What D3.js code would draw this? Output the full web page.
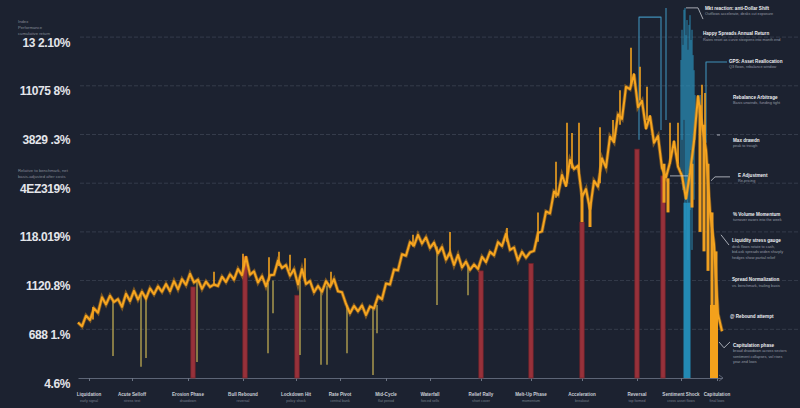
<!DOCTYPE html>
<html><head><meta charset="utf-8">
<script src="https://cdn.jsdelivr.net/npm/d3@7"></script>
<style>html,body{margin:0;padding:0;background:#1c2230;}svg{display:block}</style>
</head><body><svg id="c" width="800" height="408"></svg>
<script>
// ---------- DATA ----------
const yTickValues = [0, 10, 20, 30, 40, 50, 60, 70];
const yTickLabels = ["4.6%", "688 1.%", "1120.8%", "118.019%", "4EZ319%", "3829 .3%", "11075 8%", "13 2.10%"];

// main orange series, one value per time step
const orangeValues = [
 11.4,10.6,12.8,11.9,14.3,13.4,16.6,15.1,16.9,15.6,
 16.2,14.6,17.3,15.8,17.9,16.1,17.7,16.3,18.4,17.2,
 18.8,17.7,19.3,17.8,19.9,18.2,20.3,19.1,21.4,19.6,
 20.2,18.3,19.8,18.7,19.2,18.9,20.8,19.7,21.3,20.2,
 22.4,21.1,24.9,21.2,21.9,19.6,20.9,18.8,21.1,21.2,
 24.1,22.6,23.2,21.0,22.3,19.2,22.4,19.3,19.9,17.6,
 18.9,17.7,19.9,18.7,20.3,17.8,17.6,15.2,13.3,14.8,
 13.7,14.9,12.9,14.7,14.3,16.8,16.2,19.4,19.2,22.3,
 22.1,25.4,25.1,27.9,27.2,29.4,27.6,28.9,26.7,27.8,
 25.6,26.9,24.3,25.8,23.2,25.3,22.7,23.9,22.2,23.3,
 22.4,24.9,23.8,25.9,25.2,27.9,27.1,29.6,26.3,26.8,
 24.1,25.9,24.7,25.8,26.1,29.8,30.1,34.2,33.8,38.3,
 37.6,41.7,39.4,44.8,42.9,43.6,37.2,38.8,34.6,40.5,
 39.3,45.1,43.2,49.6,48.4,54.1,53.2,59.8,59.3,62.4,
 55.6,56.9,51.2,53.8,48.3,49.7,43.1,41.2,44.3,48.6,
 43.4,41.5,36.8,42.1,48.6,57.9,52.1,46.8,34.2,27.5,
 13.1,9.6
];

// orange upward spikes
const upT  = [3.75,34,41.25,47.75,50.25,53,56.75,63.25,83.75,93,107.25,115,119.5,122.25,123.5,125.25,130.5,133.75,135.5,138.25,140.5,142.25,148,150,156,156.75];
const upLo = [12,19,22,20,23,22,20,19,27,25,28,28,37,40,43,42,40,49,52,60,57,53,44,44,52,47];
const upHi = [14.6,21.8,25.5,24.8,25.9,25.3,24.6,21.8,29.4,30,30.8,34,44.4,52.4,50.3,52.4,51.5,53,59.1,67.8,63.9,59.8,52.4,52.4,60.2,58.5];

// orange downward streaks on the right
const odT  = [126,128,146.5,147.5,153.5,155.5,156.5,157.5,158.5,159.5];
const odHi = [38,36,44,41,44,56,52,44,34,26];
const odLo = [32,31,36,34,35,30,26,22,14,8];

// khaki downward spikes
const kT  = [8.75,15.75,17,29.75,47.5,48.75,55.5,60.75,62.25,67.25,73.75,74.75,89.75,97.5];
const kHi = [16,17,17,20,19.5,20,20,18,19,15,14.5,15,27,23];
const kLo = [4.5,2.3,4.1,3.3,5.1,13.3,4.7,2.7,2.7,5.1,0.6,9.2,15,17];

// red event bars
const redT   = [28.75,41.75,54.75,100.75,113.25,126,139.75,146.25];
const redTop = [18.7,25,17,22,23.5,32,47,41.5];

// blue burst
const blueT  = [150.75,151,151.25,151.5,151.75,152,152.25,152.5,152.75,153,153.25,153.5,153.75,154,154.25];
const blueHi = [65.3,71.5,68.4,75.6,76,70.4,73.5,67.4,72.5,74.5,69.4,71.5,66.3,63.2,58.1];
const blueLo = [42.7,48.9,38.6,53,30.4,36.6,36,24.2,40.7,34.5,46.8,26.3,44.8,36.6,48.9];
const blueBar = {t: 152.25, v: 36};
const orangeBar = {t: 159, v: 15};

// x categories
const catT = [2.75,13.5,27.5,41.25,54.5,65.5,77,88,100.75,113.25,126,139.75,150.75,159.75];
const catNames = ["Liquidation","Acute Selloff","Erosion Phase","Bull Rebound","Lockdown Hit","Rate Pivot","Mid-Cycle","Waterfall","Relief Rally","Melt-Up Phase","Acceleration","Reversal","Sentiment Shock","Capitulation"];
const catSubs  = ["early signal","stress test","drawdown","reversal","policy shock","central bank","flat period","forced sells","short cover","momentum","breakout","top formed","cross asset flows","final lows"];

// annotations (right side)
const annT = [156.75,156.25,162.75,163.75,163.75,165,163.75,163.5,163.5,163,163.75];
const annV = [75.6,70.4,64.7,57.3,48.5,41.3,33.3,27.9,19.9,12.3,6.4];
const annTitle = ["Mkt reaction: anti-Dollar Shift","Happy Spreads Annual Return","GPS: Asset Reallocation","Rebalance Arbitrage","Max drawdn","E Adjustment","% Volume Momentum","Liquidity stress gauge","Spread Normalization","@ Rebound attempt","Capitulation phase"];
const annSub = [
 ["Outflows accelerate, desks cut exposure"],
 ["Rates reset as curve steepens into month end"],
 ["Q3 flows, rebalance window"],
 ["Basis unwinds, funding tight"],
 ["peak to trough"],
 ["Re-pricing"],
 ["turnover eases into the week"],
 ["desk flows rotate to cash,","bid-ask spreads widen sharply","hedges show partial relief"],
 ["vs. benchmark, trailing basis"],
 [],
 ["broad drawdown across sectors","sentiment collapses, vol rises","year-end lows"]
];

// connector paths, in data units [t, v]
const blueConnectors = [
 [[140.25,48.9],[140.25,74.1],[145.75,74.1],[145.75,50.9]],
 [[147,76],[147,53]],
 [[157,48.3],[157,64.9],[162.25,64.9]],
 [[155.5,58.1],[155.5,50.9]]
];
const whiteConnectors = [
 [[152,76],[155,76],[156.25,73.7]],
 [[159.75,49.9],[160.5,49.9]],
 [[148,41.5],[152.5,41.5]],
 [[158.25,40.5],[159.25,41.3],[163,41.3]],
 [[160.75,29.4],[162.75,27.3]],
 [[160.25,7.4],[161.5,6.2],[163,7.4]]
];

const leftNotes1 = ["Index","Performance","cumulative return"];
const leftNotes2 = ["Relative to benchmark, net","basis-adjusted after costs"];

// ---------- DRAW ----------
const W = 800, H = 408;
const svg = d3.select("#c");
svg.append("rect").attr("width", W).attr("height", H).attr("fill", "#1c2230");

const x = d3.scaleLinear().domain([0, 161]).range([78, 722]);
const y = d3.scaleLinear().domain([0, 70]).range([378, 37.1]);
const FONT = "'Liberation Sans', Arial, sans-serif";

// grid
svg.append("g").selectAll("line").data(yTickValues.filter(d => d > 0)).join("line")
  .attr("x1", 80).attr("x2", 800)
  .attr("y1", d => y(d)).attr("y2", d => y(d))
  .attr("stroke", "#4a5262").attr("stroke-width", 0.8)
  .attr("stroke-dasharray", "4 2").attr("opacity", 0.7);

// y axis labels
const yAxis = svg.append("g").attr("transform", "translate(70,0)")
  .call(d3.axisLeft(y).tickValues(yTickValues).tickFormat((d, i) => yTickLabels[i]).tickSize(0).tickPadding(0));
yAxis.select(".domain").remove();
yAxis.selectAll("text").attr("fill", "#e3e5ea").attr("font-family", FONT)
  .attr("font-weight", "bold").attr("font-size", 12).attr("dy", "0.75em")
  .attr("letter-spacing", "-0.4");

// tiny notes
svg.append("g").selectAll("text").data(leftNotes1).join("text")
  .attr("x", 18).attr("y", (d, i) => y(70) - 14 + i * 6)
  .text(d => d).attr("fill", "#858b97").attr("font-size", 4.2).attr("font-family", FONT);
svg.append("g").selectAll("text").data(leftNotes2).join("text")
  .attr("x", 18).attr("y", (d, i) => y(40) - 11 + i * 6)
  .text(d => d).attr("fill", "#858b97").attr("font-size", 4.2).attr("font-family", FONT);

// x axis
const xAxis = svg.append("g").attr("transform", "translate(0,378)")
  .call(d3.axisBottom(x).tickValues(catT).tickFormat("").tickSize(3).tickSizeOuter(0));
xAxis.select(".domain").attr("stroke", "#5d6576").attr("stroke-width", 1.2);
xAxis.selectAll(".tick line").attr("stroke", "#6c7484");
svg.append("path").attr("d", d3.line()([[x(161) - 3, 375], [x(161) + 1, 378], [x(161) - 3, 381]]))
  .attr("fill", "none").attr("stroke", "#6c7484").attr("stroke-width", 0.8);

const cats = svg.append("g");
cats.selectAll("text.n").data(catNames).join("text").attr("class", "n")
  .attr("x", (d, i) => x(catT[i])).attr("y", 396).attr("text-anchor", "middle")
  .text(d => d).attr("fill", "#c9cdd5").attr("font-weight", "bold")
  .attr("font-size", 4.6).attr("font-family", FONT);
cats.selectAll("text.s").data(catSubs).join("text").attr("class", "s")
  .attr("x", (d, i) => x(catT[i])).attr("y", 402).attr("text-anchor", "middle")
  .text(d => d).attr("fill", "#7a808d").attr("font-size", 3.6).attr("font-family", FONT);

// blue connectors
const lineGen = d3.line().x(d => x(d[0])).y(d => y(d[1])).curve(d3.curveLinear);
svg.append("g").selectAll("path").data(blueConnectors).join("path")
  .attr("d", lineGen).attr("fill", "none").attr("stroke", "#3f8fb8").attr("stroke-width", 1.1)
  .attr("stroke-linejoin", "round");

// red bars
svg.append("g").selectAll("rect").data(redT).join("rect")
  .attr("x", d => x(d) - 2.2).attr("width", 4.4)
  .attr("y", (d, i) => y(redTop[i])).attr("height", (d, i) => y(0) - y(redTop[i]))
  .attr("fill", "#97313a").attr("stroke", "#6f2128").attr("stroke-width", 0.7);

// khaki spikes
svg.append("g").selectAll("line").data(kT).join("line")
  .attr("x1", d => x(d)).attr("x2", d => x(d))
  .attr("y1", (d, i) => y(kHi[i])).attr("y2", (d, i) => y(kLo[i]))
  .attr("stroke", "#a8984c").attr("stroke-width", 1.5);

// blue burst
svg.append("rect").attr("x", x(blueBar.t) - 3.5).attr("width", 7)
  .attr("y", y(blueBar.v)).attr("height", y(0) - y(blueBar.v)).attr("fill", "#2389b3");
svg.append("g").selectAll("line").data(blueT).join("line")
  .attr("x1", d => x(d)).attr("x2", d => x(d))
  .attr("y1", (d, i) => y(blueHi[i])).attr("y2", (d, i) => y(blueLo[i]))
  .attr("stroke", "#2a93bd").attr("stroke-width", 0.9);

// orange series
const oLine = d3.line().x((d, i) => x(i)).y(d => y(d));
svg.append("path").datum(orangeValues).attr("d", oLine)
  .attr("fill", "none").attr("stroke", "#d88a14").attr("stroke-width", 3.6).attr("opacity", 0.5);
svg.append("path").datum(orangeValues).attr("d", oLine)
  .attr("fill", "none").attr("stroke", "#f6a520").attr("stroke-width", 2).attr("stroke-linejoin", "round");
svg.append("g").selectAll("line").data(upT).join("line")
  .attr("x1", d => x(d)).attr("x2", d => x(d))
  .attr("y1", (d, i) => y(upLo[i])).attr("y2", (d, i) => y(upHi[i]))
  .attr("stroke", "#f3a21f").attr("stroke-width", 1.6);
svg.append("g").selectAll("line").data(odT).join("line")
  .attr("x1", d => x(d)).attr("x2", d => x(d))
  .attr("y1", (d, i) => y(odHi[i])).attr("y2", (d, i) => y(odLo[i]))
  .attr("stroke", "#f0a020").attr("stroke-width", 3);
svg.append("rect").attr("x", x(orangeBar.t) - 4).attr("width", 8)
  .attr("y", y(orangeBar.v)).attr("height", y(0) - y(orangeBar.v)).attr("fill", "#f3a11c");

// white connectors
svg.append("g").selectAll("path").data(whiteConnectors).join("path")
  .attr("d", lineGen).attr("fill", "none").attr("stroke", "#c9cdd4").attr("stroke-width", 0.8);

// annotations
const ann = svg.append("g").selectAll("g").data(annTitle).join("g")
  .attr("transform", (d, i) => `translate(${x(annT[i])},${y(annV[i])})`);
ann.append("text").text(d => d).attr("fill", "#eceef2").attr("font-weight", "bold")
  .attr("font-size", 4.6).attr("font-family", FONT);
ann.each(function (d, i) {
  d3.select(this).selectAll("text.sub").data(annSub[i]).join("text").attr("class", "sub")
    .attr("y", (s, j) => 5.5 + j * 5.5).text(s => s)
    .attr("fill", "#959ba6").attr("font-size", 3.8).attr("font-family", FONT);
});
</script>
</body></html>
